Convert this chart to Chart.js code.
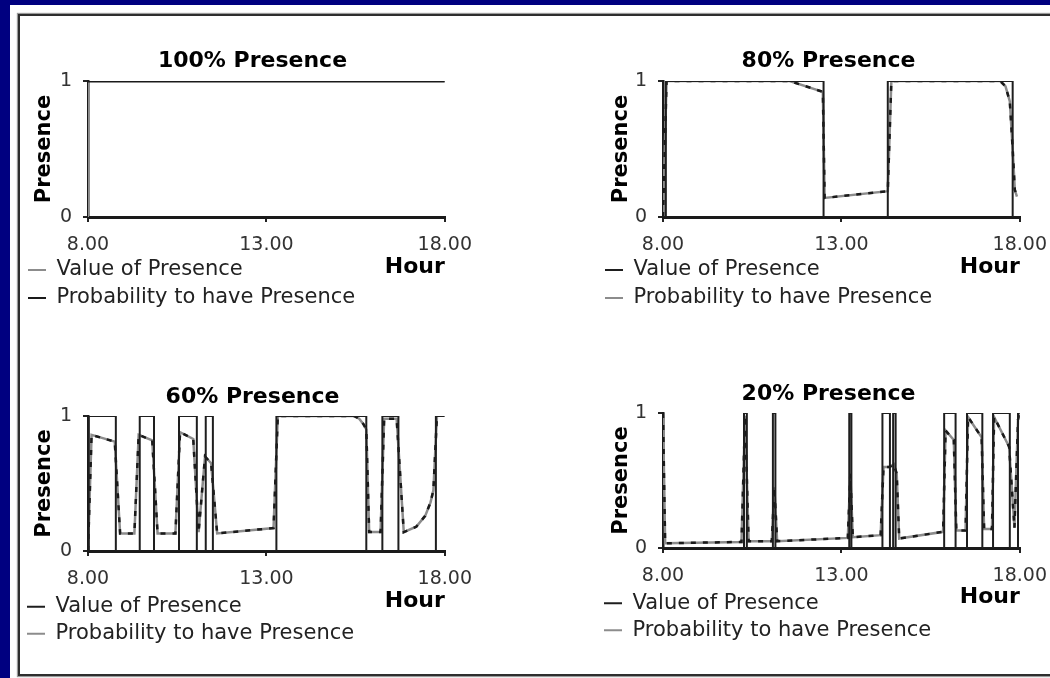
<!DOCTYPE html>
<html>
<head>
<meta charset="utf-8">
<script src="https://cdn.jsdelivr.net/npm/chart.js@4.4.1/dist/chart.umd.min.js"></script>
<style>
  html, body { margin: 0; padding: 0; width: 1050px; height: 678px; overflow: hidden; background: #000080; }
  .sheet { position: absolute; left: 10px; top: 5px; width: 1060px; height: 690px; background: #fff; }
  .frame { position: absolute; left: 8px; top: 9px; width: 1100px; height: 658px; border: 2px solid #2e2e2e; box-shadow: 0 0 1px 1px #9a9a9a; }
  canvas { position: absolute; }
</style>
</head>
<body>
<div class="sheet"><div class="frame"></div></div>
<canvas id="c100" width="466" height="300" style="left:18px;top:30px"></canvas>
<canvas id="c80" width="464" height="300" style="left:595px;top:30px"></canvas>
<canvas id="c60" width="466" height="295" style="left:18px;top:370px"></canvas>
<canvas id="c20" width="464" height="295" style="left:595px;top:370px"></canvas>
<script>
Chart.defaults.font.family = "'DejaVu Sans', sans-serif";
Chart.defaults.color = '#222';

const tickHours = [8, 13, 18];
const presenceTicks = [0, 1];
const seriesNames = ['Value of Presence', 'Probability to have Presence'];

// 100% presence
const valueHours100 = [8, 8, 18];
const value100 = [0, 1, 1];
const probHours100 = [8, 18];
const prob100 = [1, 1];

// 80% presence
const valueHours80 = [8, 8.08, 12.5, 14.3, 17.8, 18];
const value80 = [0, 1, 0, 1, 0, 0];
const probHours80 = [8, 8.1, 11.55, 12.48, 12.53, 14.3, 14.4, 17.45, 17.6, 17.72, 17.8, 17.86, 17.92];
const prob80 = [0, 1, 1, 0.92, 0.14, 0.19, 1, 1, 0.96, 0.85, 0.5, 0.2, 0.15];

// 60% presence
const valueHours60 = [8, 8.02, 8.78, 9.45, 9.85, 10.55, 11.05, 11.3, 11.5, 13.28, 15.8, 16.25, 16.7, 17.75, 18];
const value60 = [0, 1, 0, 1, 0, 1, 0, 1, 0, 1, 0, 1, 0, 1, 1];
const probHours60 = [8, 8.1, 8.75, 8.9, 9.3, 9.42, 9.8, 9.95, 10.45, 10.58, 10.95, 11.1, 11.28, 11.45, 11.62, 13.2, 13.32,
  15.45, 15.6, 15.72, 15.8, 15.88, 16.2, 16.3, 16.65, 16.85, 17.2, 17.45, 17.6, 17.68, 17.78];
const prob60 = [0, 0.86, 0.81, 0.13, 0.13, 0.86, 0.82, 0.13, 0.13, 0.88, 0.83, 0.14, 0.7, 0.65, 0.13, 0.17, 1,
  1, 0.98, 0.94, 0.9, 0.14, 0.14, 0.98, 0.98, 0.14, 0.18, 0.26, 0.36, 0.45, 1];

// 20% presence
const valueHours20 = [8, 10.27, 10.35, 11.08, 11.15, 13.22, 13.28, 14.15, 14.36, 14.45, 14.52, 15.88, 16.2, 16.52, 16.95, 17.25, 17.72, 17.95, 18];
const value20 = [0, 1, 0, 1, 0, 1, 0, 1, 0, 1, 0, 1, 0, 1, 0, 1, 0, 1, 1];
const probHours20 = [8, 8.06, 10.2, 10.3, 10.4, 11.05, 11.12, 11.2, 13.18, 13.25, 13.32, 14.1, 14.18, 14.35, 14.47, 14.55, 14.62,
  15.85, 15.92, 16.15, 16.22, 16.48, 16.55, 16.93, 17.0, 17.22, 17.28, 17.7, 17.85, 17.95, 18];
const prob20 = [1, 0.035, 0.045, 0.98, 0.05, 0.05, 0.45, 0.05, 0.075, 0.55, 0.08, 0.095, 0.6, 0.6, 0.62, 0.55, 0.07,
  0.12, 0.87, 0.8, 0.13, 0.13, 0.97, 0.82, 0.14, 0.14, 0.97, 0.75, 0.15, 0.95, 1];

function points(xs, ys) {
    return xs.map((x, i) => ({ x: x, y: ys[i] }));
}

function makeChart(id, title, vHours, vVals, pHours, pVals, look) {
    const datasets = [
        { label: seriesNames[0], data: points(vHours, vVals), stepped: true,
          borderColor: look.valueColor, borderWidth: look.valueWidth, order: look.valueOrder },
        { label: seriesNames[1], data: points(pHours, pVals),
          borderColor: look.probColor, borderWidth: look.probWidth, order: 2 }
    ];
    if (look.dashes) {
        // dark dashes running along the probability curve
        datasets.push({ label: 'dashes', data: points(pHours, pVals),
            borderColor: '#1a1a1a', borderWidth: 2.5, borderDash: [5, 7], order: 1 });
    }
    const gridStyle = { drawOnChartArea: false, tickLength: 5, color: '#222', lineWidth: 2 };

    return new Chart(document.getElementById(id), {
        type: 'line',
        data: { datasets: datasets },
        options: {
            responsive: false,
            animation: false,
            layout: { padding: look.pad },
            elements: { point: { radius: 0 }, line: { tension: 0, fill: false } },
            plugins: {
                title: {
                    display: true, text: title, color: '#000',
                    font: { size: 22, weight: 'bold' },
                    padding: { top: look.titleTop, bottom: look.titleBottom }
                },
                legend: {
                    position: 'bottom', align: 'start',
                    labels: {
                        boxWidth: 18, boxHeight: 2, padding: look.legendGap,
                        color: '#222', font: { size: 21 },
                        filter: item => item.datasetIndex < 2,
                        sort: (a, b) => a.datasetIndex - b.datasetIndex,
                        generateLabels: chart => Chart.defaults.plugins.legend.labels.generateLabels(chart)
                            .map(item => Object.assign(item, { fillStyle: item.strokeStyle, lineWidth: 0 }))
                    }
                },
                tooltip: { enabled: false }
            },
            scales: {
                x: {
                    type: 'linear', min: 8, max: 18,
                    afterBuildTicks: s => { s.ticks = tickHours.map(v => ({ value: v })); },
                    afterFit: s => { s.height = look.xHeight; },
                    ticks: { padding: 12, color: '#333', font: { size: 19 }, callback: v => v.toFixed(2) },
                    grid: gridStyle,
                    border: { color: '#1a1a1a', width: 3 },
                    title: {
                        display: true, text: 'Hour', align: 'end', color: '#000',
                        font: { size: 22, weight: 'bold' },
                        padding: { top: 0, bottom: look.hourPad }
                    }
                },
                y: {
                    min: 0, max: 1,
                    afterBuildTicks: s => { s.ticks = presenceTicks.map(v => ({ value: v })); },
                    afterFit: s => { s.width = look.yWidth; },
                    ticks: { padding: 11, color: '#333', font: { size: 19 } },
                    grid: gridStyle,
                    border: { color: '#1a1a1a', width: 2.5 },
                    title: {
                        display: true, text: 'Presence', color: '#000',
                        font: { size: 21, weight: 'bold' },
                        padding: { top: look.presPad, bottom: 0 }
                    }
                }
            }
        }
    });
}

makeChart('c100', '100% Presence', valueHours100, value100, probHours100, prob100, {
    valueColor: '#8c8c8c', probColor: '#1a1a1a', valueWidth: 2, probWidth: 3, valueOrder: 3, dashes: false,
    pad: { left: 3, top: 0, right: 0, bottom: 11.5 }, titleTop: 17.8, titleBottom: 6.8,
    xHeight: 35.5, hourPad: -27.7, yWidth: 67, presPad: 11.4, legendGap: 7
});
makeChart('c80', '80% Presence', valueHours80, value80, probHours80, prob80, {
    valueColor: '#1e1e1e', probColor: '#8c8c8c', valueWidth: 2, probWidth: 2.5, valueOrder: 0, dashes: true,
    pad: { left: 3, top: 0, right: 0, bottom: 11.5 }, titleTop: 17.8, titleBottom: 6.8,
    xHeight: 35.5, hourPad: -27.7, yWidth: 65, presPad: 11.4, legendGap: 7
});
makeChart('c60', '60% Presence', valueHours60, value60, probHours60, prob60, {
    valueColor: '#1e1e1e', probColor: '#8c8c8c', valueWidth: 2, probWidth: 2.5, valueOrder: 0, dashes: true,
    pad: { left: 3, top: 0, right: 0, bottom: 10.8 }, titleTop: 13.8, titleBottom: 5.8,
    xHeight: 39.2, hourPad: -24.7, yWidth: 67, presPad: 11.4, legendGap: 6
});
makeChart('c20', '20% Presence', valueHours20, value20, probHours20, prob20, {
    valueColor: '#1e1e1e', probColor: '#8c8c8c', valueWidth: 2, probWidth: 2.5, valueOrder: 0, dashes: true,
    pad: { left: 3, top: 0, right: 0, bottom: 14.2 }, titleTop: 10.8, titleBottom: 5.8,
    xHeight: 38.8, hourPad: -23.7, yWidth: 65, presPad: 11.1, legendGap: 6
});
</script>
</body>
</html>
